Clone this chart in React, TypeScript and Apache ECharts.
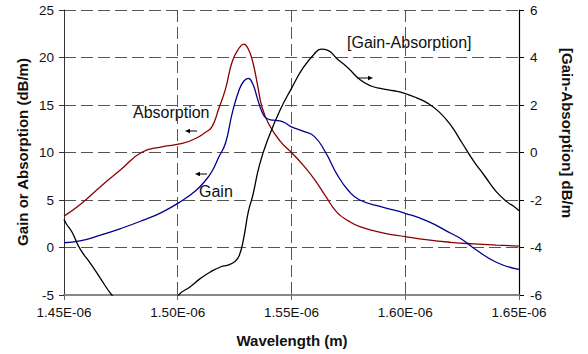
import React, { useEffect, useRef } from "react";
import * as echarts from "echarts";

// Wavelength samples (m) and values for each curve
const absorptionWavelength = [
  1.45e-6, 1.457e-6, 1.466e-6, 1.475e-6, 1.484e-6, 1.493e-6, 1.502e-6, 1.508e-6, 1.512e-6,
  1.515e-6, 1.518e-6, 1.521e-6, 1.524e-6, 1.527e-6, 1.529e-6, 1.531e-6, 1.533e-6, 1.535e-6,
  1.537e-6, 1.54e-6, 1.545e-6, 1.55e-6, 1.555e-6, 1.56e-6, 1.565e-6, 1.57e-6, 1.575e-6,
  1.58e-6, 1.59e-6, 1.6e-6, 1.61e-6, 1.62e-6, 1.63e-6, 1.64e-6, 1.65e-6,
];
const absorptionDbPerM = [
  3.3, 4.5, 6.4, 8.2, 10.0, 10.6, 10.95, 11.5, 12.1,
  12.7, 14.6, 16.7, 19.6, 21.0, 21.4, 20.9, 19.5, 17.2,
  14.8, 13.0, 11.2, 10.0, 8.7, 7.2, 5.4, 3.7, 2.8,
  2.2, 1.55, 1.15, 0.8, 0.55, 0.38, 0.25, 0.15,
];

const gainWavelength = [
  1.45e-6, 1.457e-6, 1.466e-6, 1.475e-6, 1.484e-6, 1.493e-6, 1.502e-6, 1.508e-6, 1.512e-6,
  1.515e-6, 1.518e-6, 1.521e-6, 1.524e-6, 1.527e-6, 1.529e-6, 1.531e-6, 1.533e-6, 1.535e-6,
  1.537e-6, 1.539e-6, 1.542e-6, 1.546e-6, 1.55e-6, 1.555e-6, 1.56e-6, 1.565e-6, 1.57e-6,
  1.575e-6, 1.58e-6, 1.59e-6, 1.6e-6, 1.61e-6, 1.62e-6, 1.625e-6, 1.63e-6, 1.64e-6, 1.65e-6,
];
const gainDbPerM = [
  0.5, 0.7, 1.3, 2.0, 2.8, 3.7, 4.95, 6.0, 7.0,
  8.0, 9.5, 11.0, 14.2, 16.6, 17.5, 17.8, 17.2, 15.7,
  14.3, 13.6, 13.4, 13.25, 12.7, 12.25, 11.7, 10.0, 7.7,
  6.0, 5.0, 4.25, 3.6, 2.75, 1.5, 0.85, -0.05, -1.55, -2.3,
];

const netWavelength = [
  1.45e-6, 1.451e-6, 1.4535e-6, 1.457e-6, 1.462e-6, 1.466e-6, 1.471e-6, 1.476e-6, 1.485e-6,
  1.495e-6, 1.5004e-6, 1.5055e-6, 1.51e-6, 1.5145e-6, 1.519e-6, 1.522e-6, 1.525e-6, 1.527e-6,
  1.529e-6, 1.531e-6, 1.533e-6, 1.536e-6, 1.54e-6, 1.545e-6, 1.55e-6, 1.555e-6, 1.56e-6,
  1.563e-6, 1.566e-6, 1.57e-6, 1.575e-6, 1.58e-6, 1.585e-6, 1.59e-6, 1.595e-6, 1.6e-6,
  1.605e-6, 1.61e-6, 1.615e-6, 1.62e-6, 1.625e-6, 1.63e-6, 1.635e-6, 1.64e-6, 1.645e-6,
  1.6475e-6, 1.65e-6,
];
const netDbPerM = [
  -2.81, -3.0, -3.35, -4.05, -4.72, -5.3, -6.0, -6.5, -7.2,
  -6.8, -6.0, -5.65, -5.3, -5.02, -4.81, -4.74, -4.6, -4.35,
  -3.6, -2.5, -1.8, -0.5, 0.65, 1.79, 2.7, 3.55, 4.15,
  4.35, 4.3, 3.95, 3.55, 3.07, 2.8, 2.68, 2.6, 2.48,
  2.3, 2.07, 1.7, 1.15, 0.4, -0.35, -1.0, -1.65, -2.1,
  -2.25, -2.45,
];

const FONT = "'Liberation Sans', Arial, Helvetica, sans-serif";

const pairs = (xs: number[], ys: number[]) => xs.map((x, i) => [x, ys[i]]);

const sciLabel = (v: number) => {
  const [m, e] = v.toExponential(2).split("e");
  const n = parseInt(e, 10);
  return `${m}E${n < 0 ? "-" : "+"}${String(Math.abs(n)).padStart(2, "0")}`;
};

const dashed = { type: [12, 5] as number[], color: "#555", width: 1 };

function arrow(x1: number, x2: number, y: number) {
  const dir = x2 > x1 ? 1 : -1;
  return [
    { type: "line", shape: { x1, y1: y, x2: x2 - dir * 3, y2: y }, style: { stroke: "#000", lineWidth: 1 } },
    {
      type: "polygon",
      shape: { points: [[x2, y], [x2 - dir * 5, y - 2.2], [x2 - dir * 5, y + 2.2]] },
      style: { fill: "#000" },
    },
  ];
}

export default function App() {
  const ref = useRef<HTMLDivElement>(null);

  useEffect(() => {
    if (!ref.current) return;
    const chart = echarts.init(ref.current, null, { renderer: "svg" });
    chart.setOption({
      animation: false,
      backgroundColor: "#fff",
      textStyle: { fontFamily: FONT },
      grid: { left: 64, right: 69, top: 10, bottom: 59 },
      xAxis: {
        type: "value",
        min: 1.45e-6,
        max: 1.65e-6,
        interval: 5e-8,
        axisLine: { show: true, onZero: false, lineStyle: { color: "#888", width: 2 } },
        axisTick: { show: true, length: 5, lineStyle: { color: "#666" } },
        axisLabel: { formatter: sciLabel, fontSize: 13.5, color: "#111", margin: 10, fontFamily: FONT },
        splitLine: { show: true, lineStyle: dashed },
      },
      yAxis: [
        {
          type: "value",
          min: -5,
          max: 25,
          interval: 5,
          axisLine: { show: true, onZero: false, lineStyle: { color: "#333", width: 1 } },
          axisTick: { show: true, length: 5, lineStyle: { color: "#333" } },
          axisLabel: { fontSize: 13.5, color: "#111", margin: 10, fontFamily: FONT },
          splitLine: { show: true, lineStyle: dashed },
        },
        {
          type: "value",
          min: -6,
          max: 6,
          interval: 2,
          position: "right",
          axisLine: { show: true, onZero: false, lineStyle: { color: "#000", width: 1.2 } },
          axisTick: { show: true, length: 5, lineStyle: { color: "#000" } },
          axisLabel: { fontSize: 13.5, color: "#111", margin: 11, fontFamily: FONT },
          splitLine: { show: false },
        },
      ],
      series: [
        {
          name: "Absorption",
          type: "line",
          yAxisIndex: 0,
          data: pairs(absorptionWavelength, absorptionDbPerM),
          smooth: 0.5,
          showSymbol: false,
          lineStyle: { color: "#8B0000", width: 1.3 },
          z: 3,
        },
        {
          name: "Gain",
          type: "line",
          yAxisIndex: 0,
          data: pairs(gainWavelength, gainDbPerM),
          smooth: 0.5,
          showSymbol: false,
          lineStyle: { color: "#00008B", width: 1.3 },
          z: 3,
        },
        {
          name: "[Gain-Absorption]",
          type: "line",
          yAxisIndex: 1,
          data: pairs(netWavelength, netDbPerM),
          smooth: 0.5,
          showSymbol: false,
          clip: true,
          lineStyle: { color: "#000", width: 1.3 },
          z: 3,
        },
      ],
      graphic: [
        {
          type: "text",
          x: 22,
          y: 152,
          rotation: Math.PI / 2,
          style: {
            text: "Gain or Absorption (dB/m)",
            align: "center",
            verticalAlign: "middle",
            fontSize: 15,
            fontWeight: "bold",
            fontFamily: FONT,
            fill: "#111",
          },
        },
        {
          type: "text",
          x: 567,
          y: 133,
          rotation: -Math.PI / 2,
          style: {
            text: "[Gain-Absorption] dB/m",
            align: "center",
            verticalAlign: "middle",
            fontSize: 15,
            fontWeight: "bold",
            fontFamily: FONT,
            fill: "#111",
          },
        },
        {
          type: "text",
          x: 292,
          y: 340,
          style: {
            text: "Wavelength (m)",
            align: "center",
            verticalAlign: "middle",
            fontSize: 15,
            fontWeight: "bold",
            fontFamily: FONT,
            fill: "#111",
          },
        },
        {
          type: "text",
          x: 133,
          y: 112,
          style: { text: "Absorption", verticalAlign: "middle", fontSize: 16, fontFamily: FONT, fill: "#111" },
        },
        {
          type: "text",
          x: 199,
          y: 191,
          style: { text: "Gain", verticalAlign: "middle", fontSize: 16, fontFamily: FONT, fill: "#111" },
        },
        {
          type: "text",
          x: 347,
          y: 42,
          style: { text: "[Gain-Absorption]", verticalAlign: "middle", fontSize: 16, fontFamily: FONT, fill: "#111" },
        },
        ...arrow(197, 185, 131),
        ...arrow(207, 195, 174),
        ...arrow(357, 373, 78),
      ],
    });
    return () => chart.dispose();
  }, []);

  return (
    <div
      ref={ref}
      style={{ position: "fixed", left: 0, top: 0, width: 588, height: 354, background: "#fff" }}
    />
  );
}
